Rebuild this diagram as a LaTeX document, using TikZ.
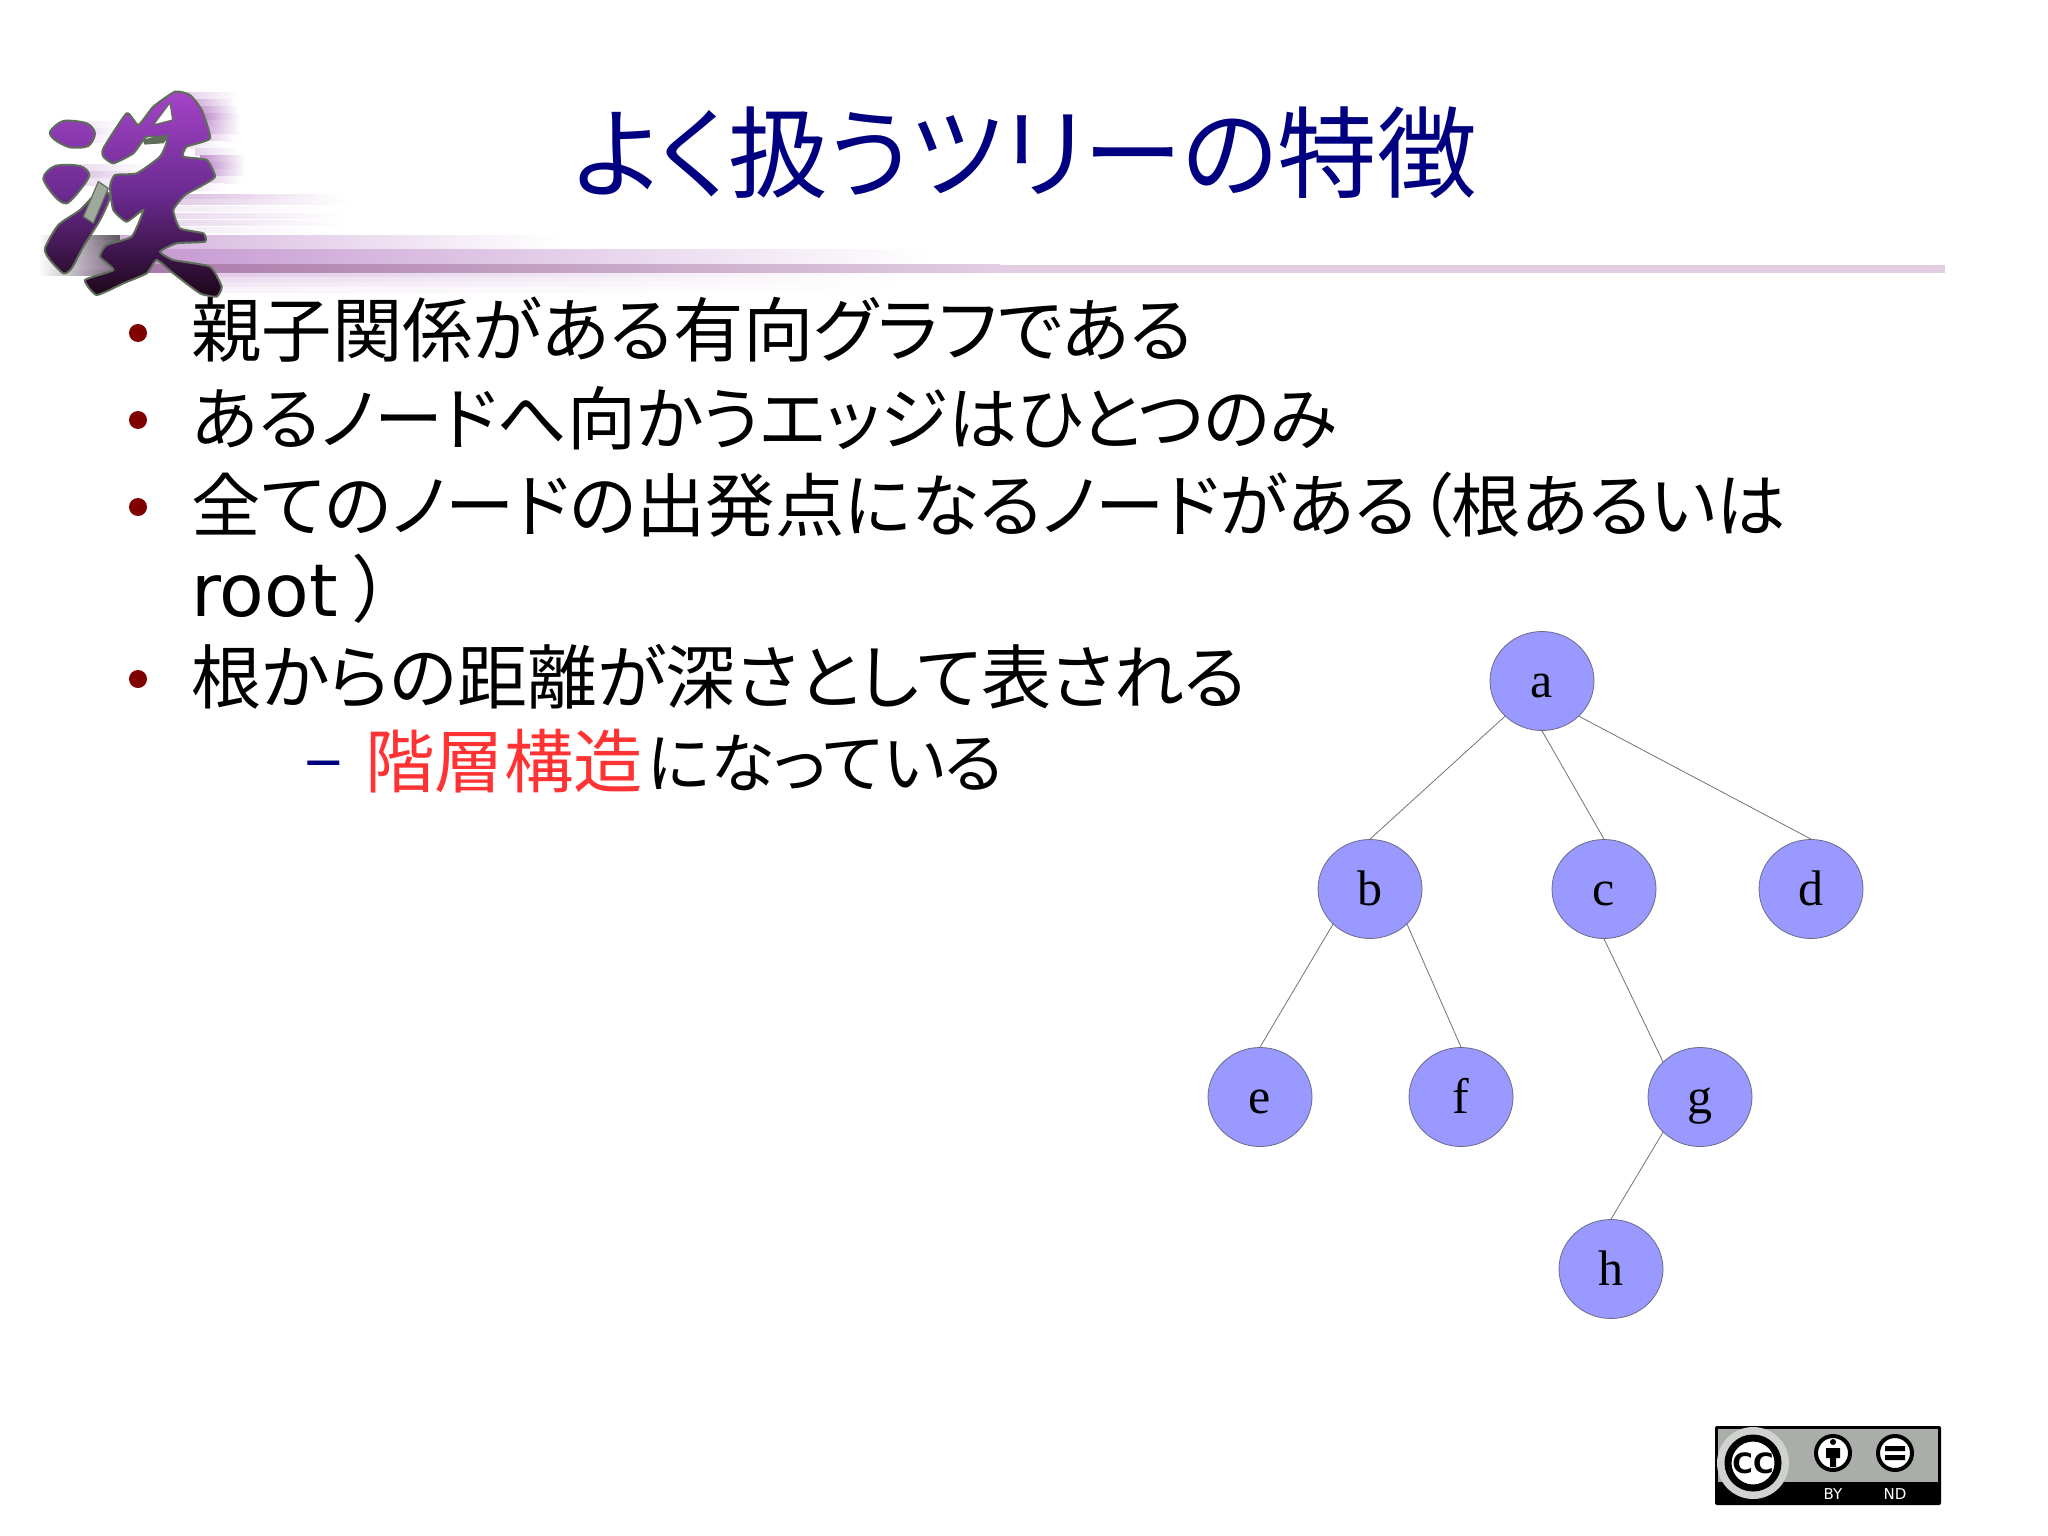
\documentclass[tikz,border=0pt]{standalone}
\usepackage{fontspec}
\usepackage{xcolor}
\usepackage{tikz}
\usetikzlibrary{arrows,shapes.geometric}
\setmainfont{Noto Sans CJK JP}[RawFeature=+palt]
\newfontfamily\rootfont{DejaVu Sans}
\newfontfamily\nodefont{Liberation Serif}
\newfontfamily\badgefont{DejaVu Sans}
\definecolor{titleBlue}{HTML}{000080}
\definecolor{bulletRed}{HTML}{800000}
\definecolor{layerRed}{HTML}{FF3333}
\definecolor{treeBlue}{HTML}{9999FF}
\definecolor{treeEdge}{HTML}{6A6A8A}
\definecolor{logoLight}{HTML}{A544C8}
\definecolor{logoMid}{HTML}{6A2A90}
\definecolor{logoDark}{HTML}{1C0618}
\definecolor{logoBlur}{HTML}{9C50B0}
\definecolor{logoEdge}{HTML}{5E6E58}
\definecolor{barLeft}{HTML}{A878A8}
\definecolor{barEnd}{HTML}{E2CDE2}
\definecolor{badgeGrey}{HTML}{A9AEA8}
\tikzstyle{treeNode} = [ellipse, draw = treeEdge, fill = treeBlue, minimum width = 52pt, minimum height = 49.5pt, inner sep = 0pt, text height = 16pt, text depth = 0pt, font = \nodefont\fontsize{25}{30}\selectfont]
\tikzstyle{line} = [draw = black!55, line width = .4pt]
\tikzstyle{titleText} = [anchor = center, text = titleBlue, font = \fontsize{49.8}{60}\selectfont]
\tikzstyle{bodyText} = [anchor = west, inner sep = 0pt]
\tikzstyle{bullet} = [circle, fill = bulletRed, inner sep = 0pt, minimum size = 9pt]
\tikzstyle{dashMark} = [anchor = west, inner sep = 0pt, text = titleBlue, font = \fontsize{36}{40}\selectfont]
\tikzstyle{badgeText} = [text = white, inner sep = 0pt, font = \badgefont\fontsize{7.5}{9}\selectfont]
\begin{document}
\begin{tikzpicture}[x = .5pt, y = -.5pt]
        \useasboundingbox[fill = white] (0,0) rectangle (2048,1535);
        %logo blur
        \foreach \xa/\ya/\xb/\pc in {180/93/238/30, 190/100/236/50, 195/107/238/65, 200/114/240/70, 200/121/240/60, 200/128/240/55, 200/135/236/35, 190/142/225/15, 195/149/238/25, 200/156/245/65, 200/163/245/75, 200/170/245/65, 195/177/240/40, 190/184/225/15, 60/122/118/25, 60/129/118/40, 60/136/118/25, 80/165/150/20, 80/172/150/35, 80/179/150/20}
            \fill[left color = logoBlur!\pc!white, right color = white] (\xa,\ya) rectangle (\xb,\ya+7);
        \foreach \ya/\xb/\pc in {195/340/40, 200/350/30, 207/320/12, 214/345/22, 221/345/22, 228/320/12}
            \fill[left color = logoBlur!\pc!white, right color = white] (170,\ya) rectangle (\xb,\ya+5);
        \foreach \ya/\pc in {236/15, 241/25, 246/30, 251/35, 256/40, 261/40, 266/45, 271/30}
            \fill[left color = white, right color = logoBlur!\pc!black!70!white] (38,\ya) rectangle (120,\ya+5);
        \fill[left color = logoBlur!45!white, right color = white] (120,236) rectangle (560,250);
        \fill[left color = logoBlur!60!white, right color = white] (120,250) rectangle (930,265);
        \foreach \ya/\pc in {273/30, 278/20, 283/14, 288/7}
            \fill[left color = logoBlur!\pc!white, right color = white] (195,\ya) rectangle (910,\ya+5);
        \fill[left color = barLeft, right color = barEnd] (120,265) rectangle (1000,273);
        \fill[barEnd] (1000,265) rectangle (1945,273);
        %logo glyph
        \begin{scope}[shift = {(0,60)}, scale = 1/3]
            \path[top color = logoLight, bottom color = logoDark, middle color = logoMid, draw = logoEdge, line width = 1pt]
                plot[smooth cycle] coordinates {(150,215) (190,183) (260,190) (285,220) (265,258) (210,262) (165,240)}
                plot[smooth cycle] coordinates {(130,355) (165,318) (240,318) (268,345) (240,390) (200,430) (165,410)}
                plot[smooth cycle, tension = .4] coordinates {(135,565) (175,495) (240,450) (300,390) (330,410) (300,480) (250,560) (215,625) (190,640) (150,600)}
                plot[smooth cycle, tension = .3] coordinates {(310,265) (380,160) (415,195) (460,140) (525,95) (570,105) (605,150) (630,235) (560,260) (550,290) (620,300) (645,350) (600,380) (555,405) (520,450) (540,505) (610,520) (615,545) (530,550) (480,575) (520,600) (630,620) (665,680) (650,710) (600,700) (520,640) (470,600) (440,640) (370,670) (290,705) (255,660) (340,630) (300,590) (320,555) (395,530) (430,450) (380,485) (340,450) (330,380) (345,345) (410,340) (480,290) (500,240) (440,230) (400,280) (340,310) (310,290)};
            \path[fill = white, draw = logoEdge, line width = .6pt] (460,195) -- (510,128) -- (518,180) -- cycle;
            \path[fill = logoEdge, draw = logoEdge, line width = .6pt] (430,240) -- (505,225) -- (490,248) -- (435,252) -- cycle;
            \path[fill = logoEdge!60, draw = logoEdge, line width = .6pt] (295,365) -- (325,385) -- (280,490) -- (250,470) -- cycle;
        \end{scope}
        %title and text
        \node(title) [titleText] at (1025,153) {よく扱うツリーの特徴};
        \node(bulletA) [bullet] at (138,333) {};
        \node(lineA) [bodyText, font = \fontsize{35.2}{40}\selectfont] at (191,330) {親子関係がある有向グラフである};
        \node(bulletB) [bullet] at (138,420) {};
        \node(lineB) [bodyText, font = \fontsize{34.5}{40}\selectfont] at (191,418) {あるノードへ向かうエッジはひとつのみ};
        \node(bulletC) [bullet] at (138,507) {};
        \node(lineC) [bodyText, font = \fontsize{34.7}{40}\selectfont] at (191,505) {全てのノードの出発点になるノードがある（根あるいは};
        \node(lineD) [bodyText, font = \fontsize{36.5}{40}\selectfont] at (191,589) {{\rootfont root} ）};
        \node(bulletE) [bullet] at (138,679) {};
        \node(lineE) [bodyText, font = \fontsize{35}{40}\selectfont] at (191,677) {根からの距離が深さとして表される};
        \node(dashF) [dashMark] at (304,772) {–};
        \node(lineF) [bodyText, font = \fontsize{32.7}{40}\selectfont] at (365,761) {\textcolor{layerRed}{\fontsize{34.7}{40}\selectfont 階層構造\hspace{2pt}}になっている};
        %tree
        \node(a) [treeNode] at (1542,681) {a};
        \node(b) [treeNode, below of = a, node distance = 104pt, xshift = -86pt] {b};
        \node(c) [treeNode, below of = a, node distance = 104pt, xshift = 31pt] {c};
        \node(d) [treeNode, below of = a, node distance = 104pt, xshift = 134.5pt] {d};
        \node(e) [treeNode, below of = b, node distance = 104pt, xshift = -55pt] {e};
        \node(f) [treeNode, below of = b, node distance = 104pt, xshift = 45.5pt] {f};
        \node(g) [treeNode, below of = c, node distance = 104pt, xshift = 48pt] {g};
        \node(h) [treeNode, below of = g, node distance = 86pt, xshift = -44.5pt] {h};
        \draw[line] (a.south west) -- (b.north);
        \draw[line] (a.south) -- (c.north);
        \draw[line] (a.south east) -- (d.north);
        \draw[line] (b.south west) -- (e.north);
        \draw[line] (b.south east) -- (f.north);
        \draw[line] (c.south) -- (g.north west);
        \draw[line] (g.south west) -- (h.north);
        %badge
        \fill[black, rounded corners = 1pt] (1715,1426) rectangle (1941,1505);
        \fill[badgeGrey] (1718,1429) rectangle (1938,1482);
        \fill[white!45!badgeGrey] (1753,1463) circle (36);
        \node(cc) [circle, draw = black, line width = 3.5pt, fill = white, minimum size = 25pt, inner sep = 0pt, font = \badgefont\bfseries\fontsize{14}{15}\selectfont] at (1753,1463) {CC};
        \node(by) [circle, draw = black, line width = 2pt, fill = white, minimum size = 17pt, inner sep = 0pt] at (1833,1453) {};
        \fill[black] (1833,1442) circle (3) (1826,1448) rectangle (1840,1458) (1830,1458) rectangle (1836,1467);
        \node(nd) [circle, draw = black, line width = 2pt, fill = white, minimum size = 17pt, inner sep = 0pt] at (1895,1453) {};
        \fill[black] (1885,1446) rectangle (1905,1451) (1885,1455) rectangle (1905,1460);
        \node(byText) [badgeText] at (1833,1494) {BY};
        \node(ndText) [badgeText] at (1895,1494) {ND};
    \end{tikzpicture}
\end{document}
